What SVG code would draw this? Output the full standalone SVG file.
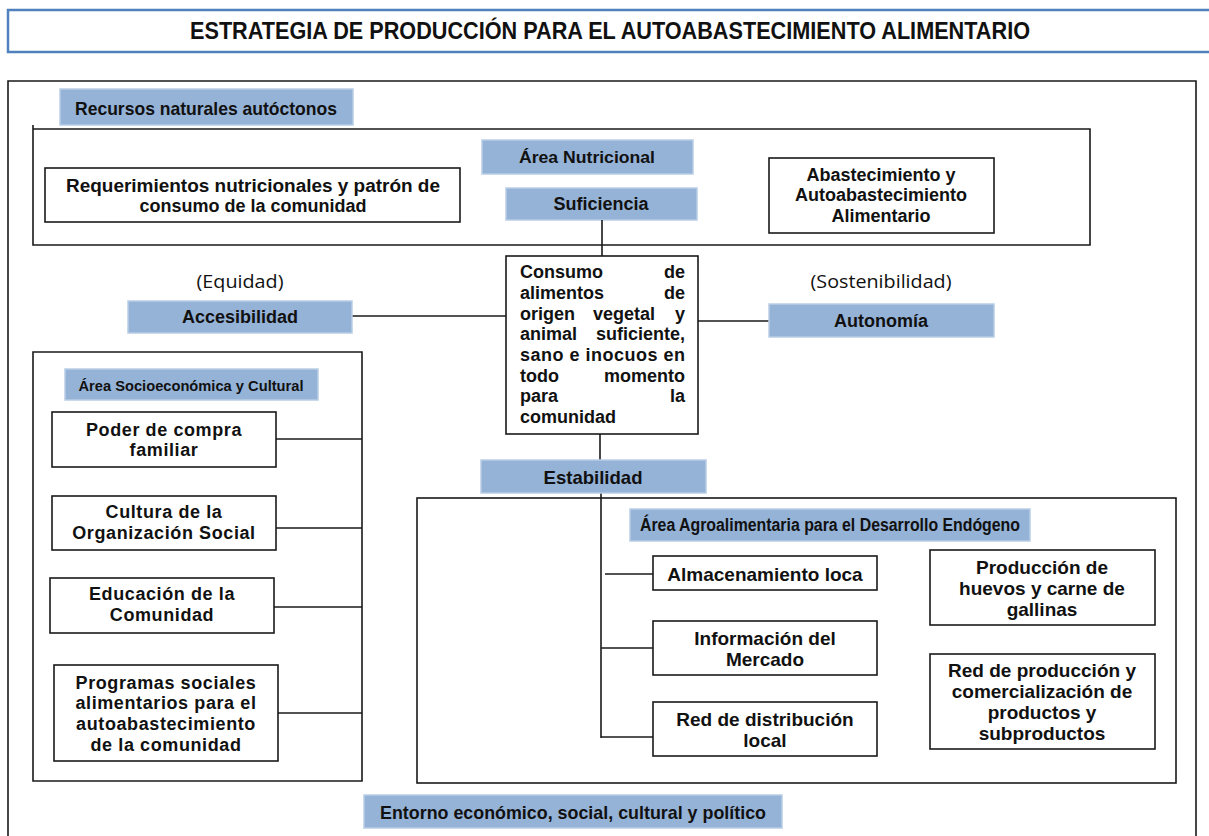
<svg xmlns="http://www.w3.org/2000/svg" width="1209" height="836" viewBox="0 0 1209 836">
<style>
.box{fill:#fff;stroke:#1a1a1a;stroke-width:1.6}
.frame{fill:none;stroke:#1a1a1a;stroke-width:1.6}
.blue{fill:#95B3D7;stroke:#B9CDE5;stroke-width:1.5}
.t{font-family:"Liberation Sans",Arial,sans-serif;font-weight:bold;font-size:18px;fill:#111;text-anchor:middle;dominant-baseline:central}
.w{letter-spacing:0.6px}
.g{font-size:19px}
.c{font-family:"Liberation Sans",Arial,sans-serif;font-weight:bold;font-size:17px;fill:#111;text-anchor:middle;dominant-baseline:central}
.n{font-family:"Open Sans","Liberation Sans",sans-serif;font-size:18px;fill:#111;text-anchor:middle;dominant-baseline:central}
.j{font-family:"Liberation Sans",Arial,sans-serif;font-weight:bold;font-size:18px;fill:#111;dominant-baseline:central}
.e{text-anchor:end}
.ln{stroke:#1a1a1a;stroke-width:1.6;fill:none}
</style>

<g id="title">
<rect x="8" y="10" width="1210" height="42" fill="#fff" stroke="#4F81BD" stroke-width="2.5"/>
<text x="610" y="31" class="t" style="font-size:23px" textLength="840" lengthAdjust="spacingAndGlyphs">ESTRATEGIA DE PRODUCCIÓN PARA EL AUTOABASTECIMIENTO ALIMENTARIO</text>
</g>

<g id="outer-frame">
<path class="frame" d="M8,840 V81 H1196 V840"/>
</g>

<g id="recursos">
<rect class="blue" x="60" y="89" width="293" height="36"/>
<text x="206" y="108" class="c" style="font-size:19px" textLength="262" lengthAdjust="spacingAndGlyphs">Recursos naturales autóctonos</text>
</g>

<g id="area-nutricional-frame">
<path class="frame" d="M33,125 V245 H1090 V129 H33"/>
</g>

<g id="area-nutricional">
<rect class="blue" x="482" y="140" width="211" height="34"/>
<text x="587" y="157" class="c" textLength="136" lengthAdjust="spacingAndGlyphs">Área Nutricional</text>
</g>

<g id="requerimientos">
<rect class="box" x="45" y="168" width="415" height="54"/>
<text x="253" y="186" class="t" textLength="374" lengthAdjust="spacingAndGlyphs">Requerimientos  nutricionales y patrón de</text>
<text x="253" y="206" class="t">consumo de la comunidad</text>
</g>

<g id="suficiencia">
<rect class="blue" x="506" y="188" width="191" height="32"/>
<text x="601" y="204" class="t">Suficiencia</text>
</g>

<g id="abastecimiento">
<rect class="box" x="769" y="158" width="225" height="75"/>
<text x="881" y="175" class="t">Abastecimiento y</text>
<text x="881" y="195" class="t">Autoabastecimiento</text>
<text x="881" y="216" class="t">Alimentario</text>
</g>

<g id="connectors">
<line class="ln" x1="602" y1="220" x2="602" y2="256"/>
<line class="ln" x1="352" y1="316" x2="506" y2="316"/>
<line class="ln" x1="698" y1="321" x2="769" y2="321"/>
<line class="ln" x1="600" y1="434" x2="600" y2="460"/>
<line class="ln" x1="601" y1="493" x2="601" y2="738"/>
<line class="ln" x1="605" y1="574" x2="653" y2="574"/>
<line class="ln" x1="601" y1="648" x2="653" y2="648"/>
<line class="ln" x1="601" y1="737" x2="653" y2="737"/>
<line class="ln" x1="276" y1="439" x2="362" y2="439"/>
<line class="ln" x1="276" y1="528" x2="362" y2="528"/>
<line class="ln" x1="274" y1="607" x2="362" y2="607"/>
<line class="ln" x1="278" y1="713" x2="362" y2="713"/>
</g>

<g id="equidad">
<text x="240" y="281" class="n" textLength="87" lengthAdjust="spacingAndGlyphs">(Equidad)</text>
</g>
<g id="accesibilidad">
<rect class="blue" x="128" y="301" width="224" height="32"/>
<text x="240" y="317" class="t">Accesibilidad</text>
</g>

<g id="consumo">
<rect class="box" x="506" y="256" width="192" height="178"/>
<text x="520" y="272" class="j">Consumo</text>
<text x="685" y="272" class="j e">de</text>
<text x="520" y="293" class="j">alimentos</text>
<text x="685" y="293" class="j e">de</text>
<text x="520" y="314" class="j">origen</text>
<text x="593" y="314" class="j">vegetal</text>
<text x="685" y="314" class="j e">y</text>
<text x="520" y="334" class="j">animal</text>
<text x="685" y="334" class="j e">suficiente,</text>
<text x="520" y="355" class="j" textLength="165">sano e inocuos en</text>
<text x="520" y="376" class="j">todo</text>
<text x="685" y="376" class="j e">momento</text>
<text x="520" y="396" class="j">para</text>
<text x="685" y="396" class="j e">la</text>
<text x="520" y="417" class="j">comunidad</text>
</g>

<g id="sostenibilidad">
<text x="881" y="281" class="n" textLength="141" lengthAdjust="spacingAndGlyphs">(Sostenibilidad)</text>
</g>
<g id="autonomia">
<rect class="blue" x="769" y="304" width="225" height="33"/>
<text x="881" y="321" class="t">Autonomía</text>
</g>

<g id="area-socio-frame">
<path class="frame" d="M33,352 H362 V781 H33 Z"/>
</g>
<g id="area-socio">
<rect class="blue" x="65" y="369" width="253" height="31"/>
<text x="191" y="385" class="c" style="font-size:15px" textLength="225" lengthAdjust="spacingAndGlyphs">Área Socioeconómica y Cultural</text>
</g>

<g id="poder">
<rect class="box" x="52" y="412" width="224" height="55"/>
<text x="164" y="430" class="t w">Poder de compra</text>
<text x="164" y="450" class="t w">familiar</text>
</g>
<g id="cultura">
<rect class="box" x="52" y="496" width="224" height="54"/>
<text x="164" y="512" class="t w">Cultura de la</text>
<text x="164" y="533" class="t w">Organización Social</text>
</g>
<g id="educacion">
<rect class="box" x="50" y="578" width="224" height="55"/>
<text x="162" y="594" class="t w">Educación de la</text>
<text x="162" y="615" class="t w">Comunidad</text>
</g>
<g id="programas">
<rect class="box" x="54" y="665" width="224" height="96"/>
<text x="166" y="683" class="t w">Programas sociales</text>
<text x="166" y="703" class="t w">alimentarios para el</text>
<text x="166" y="724" class="t w">autoabastecimiento</text>
<text x="166" y="745" class="t w">de la comunidad</text>
</g>

<g id="estabilidad">
<rect class="blue" x="481" y="460" width="225" height="33"/>
<text x="593" y="477" class="c" style="font-size:19px" textLength="99" lengthAdjust="spacingAndGlyphs">Estabilidad</text>
</g>

<g id="area-agro-frame">
<rect class="frame" x="417" y="498" width="759" height="285"/>
</g>
<g id="area-agro">
<rect class="blue" x="630" y="509" width="400" height="32"/>
<text x="830" y="525" class="c" style="font-size:18px" textLength="380" lengthAdjust="spacingAndGlyphs">Área Agroalimentaria para el Desarrollo Endógeno</text>
</g>

<g id="almacenamiento">
<rect class="box" x="653" y="556" width="224" height="34"/>
<text x="765" y="574" class="t g">Almacenamiento loca</text>
</g>
<g id="informacion">
<rect class="box" x="653" y="621" width="224" height="54"/>
<text x="765" y="638" class="t g">Información del</text>
<text x="765" y="659" class="t g">Mercado</text>
</g>
<g id="red-distribucion">
<rect class="box" x="653" y="702" width="224" height="54"/>
<text x="765" y="719" class="t g">Red de distribución</text>
<text x="765" y="740" class="t g">local</text>
</g>
<g id="produccion">
<rect class="box" x="930" y="550" width="225" height="75"/>
<text x="1042" y="567" class="t g">Producción de</text>
<text x="1042" y="588" class="t g">huevos y carne de</text>
<text x="1042" y="609" class="t g">gallinas</text>
</g>
<g id="red-produccion">
<rect class="box" x="930" y="654" width="225" height="95"/>
<text x="1042" y="670" class="t g">Red de producción y</text>
<text x="1042" y="691" class="t g">comercialización de</text>
<text x="1042" y="712" class="t g">productos y</text>
<text x="1042" y="733" class="t g">subproductos</text>
</g>

<g id="entorno">
<rect class="blue" x="364" y="795" width="418" height="33"/>
<text x="573" y="812" class="c" style="font-size:19px" textLength="386" lengthAdjust="spacingAndGlyphs">Entorno económico, social, cultural y político</text>
</g>
</svg>
